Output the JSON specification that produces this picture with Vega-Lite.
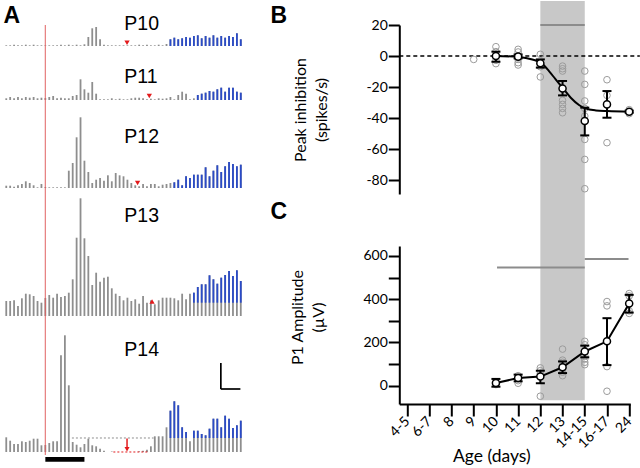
{
"$schema":"https://vega.github.io/schema/vega-lite/v6.json",
"background":"white",
"padding":{"left":3.3,"top":0,"right":0,"bottom":0},
"config":{"view":{"stroke":null}},
"datasets":{
"psth":[
{"age":"P10","t":-100,"rate":0.7},{"age":"P10","t":-90,"rate":0.7},{"age":"P10","t":-80,"rate":1.3},{"age":"P10","t":-70,"rate":0.7},{"age":"P10","t":-60,"rate":0.7},{"age":"P10","t":-50,"rate":1.3},{"age":"P10","t":-40,"rate":0.7},{"age":"P10","t":-30,"rate":1.3},{"age":"P10","t":-20,"rate":0.7},{"age":"P10","t":-10,"rate":0.7},
{"age":"P10","t":0,"rate":0.7},{"age":"P10","t":10,"rate":0.7},{"age":"P10","t":20,"rate":0.7},{"age":"P10","t":30,"rate":0.7},{"age":"P10","t":40,"rate":1.3},{"age":"P10","t":50,"rate":0.7},{"age":"P10","t":60,"rate":1.3},{"age":"P10","t":70,"rate":0.7},{"age":"P10","t":80,"rate":1.3},{"age":"P10","t":90,"rate":0.7},
{"age":"P10","t":100,"rate":1.7},{"age":"P10","t":110,"rate":9},{"age":"P10","t":120,"rate":17.7},{"age":"P10","t":130,"rate":19},{"age":"P10","t":140,"rate":6.7},{"age":"P10","t":150,"rate":1.3},{"age":"P10","t":160,"rate":0.7},{"age":"P10","t":170,"rate":0.7},{"age":"P10","t":180,"rate":0.7},{"age":"P10","t":190,"rate":0.7},
{"age":"P10","t":200,"rate":0.7},{"age":"P10","t":210,"rate":0.7},{"age":"P10","t":220,"rate":0.7},{"age":"P10","t":230,"rate":0.7},{"age":"P10","t":240,"rate":1.3},{"age":"P10","t":250,"rate":0.7},{"age":"P10","t":260,"rate":1.3},{"age":"P10","t":270,"rate":0.7},{"age":"P10","t":280,"rate":0.7},{"age":"P10","t":290,"rate":1.3},
{"age":"P10","t":300,"rate":0.7},{"age":"P10","t":310,"rate":2},
{"age":"P10","t":320,"rate":6.7,"base":0},{"age":"P10","t":330,"rate":8.3,"base":0},{"age":"P10","t":340,"rate":6.7,"base":0},{"age":"P10","t":350,"rate":7.7,"base":0},{"age":"P10","t":360,"rate":9,"base":0},{"age":"P10","t":370,"rate":8.3,"base":0},{"age":"P10","t":380,"rate":10,"base":0},{"age":"P10","t":390,"rate":10.7,"base":0},{"age":"P10","t":400,"rate":7.7,"base":0},{"age":"P10","t":410,"rate":10,"base":0},{"age":"P10","t":420,"rate":8.3,"base":0},{"age":"P10","t":430,"rate":10.7,"base":0},{"age":"P10","t":440,"rate":8.3,"base":0},{"age":"P10","t":450,"rate":10,"base":0},{"age":"P10","t":460,"rate":8.3,"base":0},{"age":"P10","t":470,"rate":10,"base":0},{"age":"P10","t":480,"rate":9,"base":0},{"age":"P10","t":490,"rate":12.7,"base":0},{"age":"P10","t":500,"rate":6.7,"base":0},

{"age":"P11","t":-100,"rate":1.7},{"age":"P11","t":-90,"rate":3},{"age":"P11","t":-80,"rate":1.7},{"age":"P11","t":-70,"rate":3},{"age":"P11","t":-60,"rate":1.7},{"age":"P11","t":-50,"rate":3},{"age":"P11","t":-40,"rate":2.3},{"age":"P11","t":-30,"rate":3},{"age":"P11","t":-20,"rate":1.7},{"age":"P11","t":-10,"rate":2.3},
{"age":"P11","t":0,"rate":2},{"age":"P11","t":10,"rate":3},{"age":"P11","t":20,"rate":4},{"age":"P11","t":30,"rate":1.7},{"age":"P11","t":40,"rate":2.3},{"age":"P11","t":50,"rate":1.7},{"age":"P11","t":60,"rate":1.7},{"age":"P11","t":70,"rate":4},{"age":"P11","t":80,"rate":5},{"age":"P11","t":90,"rate":20.7},
{"age":"P11","t":100,"rate":10.7},{"age":"P11","t":110,"rate":7.3},{"age":"P11","t":120,"rate":18},{"age":"P11","t":130,"rate":6.3},{"age":"P11","t":140,"rate":0.7},{"age":"P11","t":150,"rate":0.7},{"age":"P11","t":160,"rate":0.7},{"age":"P11","t":170,"rate":1.7},{"age":"P11","t":180,"rate":0.7},{"age":"P11","t":190,"rate":1.3},
{"age":"P11","t":200,"rate":0.7},{"age":"P11","t":210,"rate":0.7},{"age":"P11","t":220,"rate":1.7},{"age":"P11","t":230,"rate":2.3},{"age":"P11","t":240,"rate":2.3},{"age":"P11","t":250,"rate":1.7},{"age":"P11","t":260,"rate":0.7},{"age":"P11","t":270,"rate":1.3},{"age":"P11","t":280,"rate":0.7},{"age":"P11","t":290,"rate":1.7},
{"age":"P11","t":300,"rate":1.3},{"age":"P11","t":310,"rate":1.7},{"age":"P11","t":320,"rate":3},{"age":"P11","t":330,"rate":0.7},{"age":"P11","t":340,"rate":5},{"age":"P11","t":350,"rate":8.3},{"age":"P11","t":360,"rate":6.3},{"age":"P11","t":370,"rate":0.7},{"age":"P11","t":380,"rate":1.7},
{"age":"P11","t":390,"rate":5,"base":0},{"age":"P11","t":400,"rate":6.3,"base":0},{"age":"P11","t":410,"rate":7.3,"base":0},{"age":"P11","t":420,"rate":9,"base":0},{"age":"P11","t":430,"rate":8.3,"base":0},{"age":"P11","t":440,"rate":10.7,"base":0},{"age":"P11","t":450,"rate":12.3,"base":0},{"age":"P11","t":460,"rate":8.3,"base":0},{"age":"P11","t":470,"rate":12.3,"base":0},{"age":"P11","t":480,"rate":12.3,"base":0},{"age":"P11","t":490,"rate":8.3,"base":0},{"age":"P11","t":500,"rate":7.3,"base":0},

{"age":"P12","t":-100,"rate":2.3},{"age":"P12","t":-90,"rate":2.3},{"age":"P12","t":-80,"rate":1.3},{"age":"P12","t":-70,"rate":2.7},{"age":"P12","t":-60,"rate":4},{"age":"P12","t":-50,"rate":6.7},{"age":"P12","t":-40,"rate":5},{"age":"P12","t":-30,"rate":2.7},{"age":"P12","t":-20,"rate":0.7},{"age":"P12","t":-10,"rate":4},
{"age":"P12","t":0,"rate":1},{"age":"P12","t":10,"rate":0.7},{"age":"P12","t":20,"rate":0.7},{"age":"P12","t":30,"rate":0.7},{"age":"P12","t":40,"rate":0.7},{"age":"P12","t":50,"rate":0.7},{"age":"P12","t":60,"rate":17.3},{"age":"P12","t":70,"rate":25},{"age":"P12","t":80,"rate":50.7},{"age":"P12","t":90,"rate":70.7},
{"age":"P12","t":100,"rate":27.3},{"age":"P12","t":110,"rate":16},{"age":"P12","t":120,"rate":5},{"age":"P12","t":130,"rate":8.3},{"age":"P12","t":140,"rate":10},{"age":"P12","t":150,"rate":7.3},{"age":"P12","t":160,"rate":12.7},{"age":"P12","t":170,"rate":6.7},{"age":"P12","t":180,"rate":15},{"age":"P12","t":190,"rate":12.7},
{"age":"P12","t":200,"rate":11.7},{"age":"P12","t":210,"rate":8.3},{"age":"P12","t":220,"rate":5},{"age":"P12","t":230,"rate":2.7},{"age":"P12","t":240,"rate":1.7},{"age":"P12","t":250,"rate":4},{"age":"P12","t":260,"rate":1.7},{"age":"P12","t":270,"rate":4},{"age":"P12","t":280,"rate":4},{"age":"P12","t":290,"rate":1.7},
{"age":"P12","t":300,"rate":3.3},{"age":"P12","t":310,"rate":4},{"age":"P12","t":320,"rate":5},
{"age":"P12","t":330,"rate":5.7,"base":0},{"age":"P12","t":340,"rate":8.3,"base":0},{"age":"P12","t":350,"rate":2.7,"base":0},{"age":"P12","t":360,"rate":11.7,"base":0},{"age":"P12","t":370,"rate":10,"base":0},{"age":"P12","t":380,"rate":13.3,"base":0},{"age":"P12","t":390,"rate":13.3,"base":0},{"age":"P12","t":400,"rate":13.3,"base":0},{"age":"P12","t":410,"rate":20.7,"base":0},{"age":"P12","t":420,"rate":11.7,"base":0},{"age":"P12","t":430,"rate":17.3,"base":0},{"age":"P12","t":440,"rate":22.7,"base":0},{"age":"P12","t":450,"rate":16,"base":0},{"age":"P12","t":460,"rate":21.7,"base":0},{"age":"P12","t":470,"rate":26,"base":0},{"age":"P12","t":480,"rate":24,"base":0},{"age":"P12","t":490,"rate":21.7,"base":0},{"age":"P12","t":500,"rate":23.3,"base":0},

{"age":"P13","t":-100,"rate":15},{"age":"P13","t":-90,"rate":15},{"age":"P13","t":-80,"rate":15.7},{"age":"P13","t":-70,"rate":10},{"age":"P13","t":-60,"rate":17.7},{"age":"P13","t":-50,"rate":22.3},{"age":"P13","t":-40,"rate":21.7},{"age":"P13","t":-30,"rate":20},{"age":"P13","t":-20,"rate":15},{"age":"P13","t":-10,"rate":13.3},
{"age":"P13","t":0,"rate":18},{"age":"P13","t":10,"rate":21},{"age":"P13","t":20,"rate":18.3},{"age":"P13","t":30,"rate":22.3},{"age":"P13","t":40,"rate":19},{"age":"P13","t":50,"rate":20},{"age":"P13","t":60,"rate":23.3},{"age":"P13","t":70,"rate":36.7},{"age":"P13","t":80,"rate":78.3},{"age":"P13","t":90,"rate":117.7},
{"age":"P13","t":100,"rate":77.7},{"age":"P13","t":110,"rate":60},{"age":"P13","t":120,"rate":31},{"age":"P13","t":130,"rate":43.3},{"age":"P13","t":140,"rate":34.3},{"age":"P13","t":150,"rate":38.3},{"age":"P13","t":160,"rate":39.3},{"age":"P13","t":170,"rate":27.7},{"age":"P13","t":180,"rate":22.3},{"age":"P13","t":190,"rate":20},
{"age":"P13","t":200,"rate":15.7},{"age":"P13","t":210,"rate":18.3},{"age":"P13","t":220,"rate":15},{"age":"P13","t":230,"rate":16.7},{"age":"P13","t":240,"rate":12.3},{"age":"P13","t":250,"rate":20},{"age":"P13","t":260,"rate":13.3},{"age":"P13","t":270,"rate":15.7},{"age":"P13","t":280,"rate":11.7},{"age":"P13","t":290,"rate":15.7},
{"age":"P13","t":300,"rate":18.3},{"age":"P13","t":310,"rate":18.3},{"age":"P13","t":320,"rate":18.3},{"age":"P13","t":330,"rate":17.7},{"age":"P13","t":340,"rate":15.7},{"age":"P13","t":350,"rate":22.3},{"age":"P13","t":360,"rate":16.7},{"age":"P13","t":370,"rate":22.3},
{"age":"P13","t":380,"rate":23.3,"base":13.3},{"age":"P13","t":390,"rate":29,"base":13.3},{"age":"P13","t":400,"rate":31.7,"base":13.3},{"age":"P13","t":410,"rate":31.7,"base":13.3},{"age":"P13","t":420,"rate":40.7,"base":13.3},{"age":"P13","t":430,"rate":36.7,"base":13.3},{"age":"P13","t":440,"rate":32.3,"base":13.3},{"age":"P13","t":450,"rate":38.3,"base":13.3},{"age":"P13","t":460,"rate":41,"base":13.3},{"age":"P13","t":470,"rate":45,"base":13.3},{"age":"P13","t":480,"rate":40,"base":13.3},{"age":"P13","t":490,"rate":45.7,"base":13.3},{"age":"P13","t":500,"rate":35,"base":13.3},

{"age":"P14","t":-100,"rate":14.7},{"age":"P14","t":-90,"rate":11.3},{"age":"P14","t":-80,"rate":8},{"age":"P14","t":-70,"rate":8},{"age":"P14","t":-60,"rate":10.7},{"age":"P14","t":-50,"rate":10},{"age":"P14","t":-40,"rate":11.3},{"age":"P14","t":-30,"rate":13.3},{"age":"P14","t":-20,"rate":13.3},{"age":"P14","t":-10,"rate":6.7},
{"age":"P14","t":0,"rate":7},{"age":"P14","t":10,"rate":9},{"age":"P14","t":20,"rate":10.7},{"age":"P14","t":30,"rate":10.7},{"age":"P14","t":40,"rate":96.7},{"age":"P14","t":50,"rate":116.7},{"age":"P14","t":60,"rate":66.7},{"age":"P14","t":70,"rate":10},{"age":"P14","t":80,"rate":7.3},{"age":"P14","t":90,"rate":4.7},
{"age":"P14","t":100,"rate":8},{"age":"P14","t":110,"rate":13.3},{"age":"P14","t":120,"rate":6.7},{"age":"P14","t":130,"rate":5.7},{"age":"P14","t":140,"rate":3.3},{"age":"P14","t":150,"rate":1.3},{"age":"P14","t":160,"rate":0},{"age":"P14","t":170,"rate":0.5},{"age":"P14","t":180,"rate":0},{"age":"P14","t":190,"rate":0},
{"age":"P14","t":200,"rate":0},{"age":"P14","t":210,"rate":0},{"age":"P14","t":220,"rate":0},{"age":"P14","t":230,"rate":0},{"age":"P14","t":240,"rate":0.7},{"age":"P14","t":250,"rate":1.3},{"age":"P14","t":260,"rate":2.3},{"age":"P14","t":270,"rate":5.7},{"age":"P14","t":280,"rate":15.7},{"age":"P14","t":290,"rate":15.7},
{"age":"P14","t":300,"rate":15.7},{"age":"P14","t":310,"rate":24.7},
{"age":"P14","t":320,"rate":41.3,"base":14},{"age":"P14","t":330,"rate":50.7,"base":14},{"age":"P14","t":340,"rate":46.7,"base":14},{"age":"P14","t":350,"rate":24.7,"base":14},{"age":"P14","t":360,"rate":20,"base":14},{"age":"P14","t":370,"rate":10.7,"base":14},{"age":"P14","t":380,"rate":21.3,"base":14},{"age":"P14","t":390,"rate":21.3,"base":14},{"age":"P14","t":400,"rate":18,"base":14},{"age":"P14","t":410,"rate":16.7,"base":14},{"age":"P14","t":420,"rate":23.3,"base":14},{"age":"P14","t":430,"rate":33.3,"base":14},{"age":"P14","t":440,"rate":33.3,"base":14},{"age":"P14","t":450,"rate":24.7,"base":14},{"age":"P14","t":460,"rate":36.3,"base":14},{"age":"P14","t":470,"rate":33.3,"base":14},{"age":"P14","t":480,"rate":24,"base":14},{"age":"P14","t":490,"rate":26.7,"base":14},{"age":"P14","t":500,"rate":31.3,"base":14}
],
"minima":[{"age":"P10","t":209,"rate":3.3},{"age":"P11","t":266,"rate":4},{"age":"P12","t":236,"rate":5},{"age":"P13","t":273,"rate":14.5},{"age":"P14","t":209,"rate":2.8}],
"b_ind":[
{"age":"9","pos":3,"inhib":-2.2},
{"age":"10","pos":4,"inhib":6},{"age":"10","pos":4,"inhib":2.8},{"age":"10","pos":4,"inhib":0},{"age":"10","pos":4,"inhib":-2.8},{"age":"10","pos":4,"inhib":-4.9},
{"age":"11","pos":5,"inhib":4.3},{"age":"11","pos":5,"inhib":2.6},{"age":"11","pos":5,"inhib":0},{"age":"11","pos":5,"inhib":-2.2},{"age":"11","pos":5,"inhib":-4.3},{"age":"11","pos":5,"inhib":-5.8},
{"age":"12","pos":6,"inhib":1.1},{"age":"12","pos":6,"inhib":-4.9},{"age":"12","pos":6,"inhib":-6.9},{"age":"12","pos":6,"inhib":-13.5},
{"age":"13","pos":7,"inhib":-6.5},{"age":"13","pos":7,"inhib":-8.2},{"age":"13","pos":7,"inhib":-9.7},{"age":"13","pos":7,"inhib":-28.6},{"age":"13","pos":7,"inhib":-31.2},{"age":"13","pos":7,"inhib":-33.8},{"age":"13","pos":7,"inhib":-36.6},
{"age":"14-15","pos":8,"inhib":-9.7},{"age":"14-15","pos":8,"inhib":-18.3},{"age":"14-15","pos":8,"inhib":-29},{"age":"14-15","pos":8,"inhib":-33.8},{"age":"14-15","pos":8,"inhib":-38.7},{"age":"14-15","pos":8,"inhib":-53.8},{"age":"14-15","pos":8,"inhib":-66.7},{"age":"14-15","pos":8,"inhib":-85.6},
{"age":"16-17","pos":9,"inhib":-15.3},{"age":"16-17","pos":9,"inhib":-25.4},{"age":"16-17","pos":9,"inhib":-55.9},
{"age":"24","pos":10,"inhib":-34.6},{"age":"24","pos":10,"inhib":-37.2}
],
"b_mean":[
{"age":"10","pos":4,"inhib":0,"lo":-3.7,"hi":2.8},{"age":"11","pos":5,"inhib":-0.4,"lo":-1.5,"hi":1},{"age":"12","pos":6,"inhib":-4.7,"lo":-7.5,"hi":-2.2},{"age":"13","pos":7,"inhib":-20.9,"lo":-25.4,"hi":-16.1},{"age":"14-15","pos":8,"inhib":-41.9,"lo":-51.2,"hi":-33.3},{"age":"16-17","pos":9,"inhib":-31.2,"lo":-39.8,"hi":-22.6},{"age":"24","pos":10,"inhib":-35.9,"lo":-36.6,"hi":-35.2}
],
"b_fit":[
{"pos":3.95,"inhib":0},{"pos":5.04,"inhib":-0.6},{"pos":5.64,"inhib":-2.2},{"pos":6.02,"inhib":-4.3},{"pos":6.39,"inhib":-9.7},{"pos":6.69,"inhib":-15.1},{"pos":7.02,"inhib":-20.9},{"pos":7.37,"inhib":-26.9},{"pos":7.74,"inhib":-31.6},{"pos":8.02,"inhib":-33.8},{"pos":8.5,"inhib":-35.1},{"pos":9.02,"inhib":-35.5},{"pos":10,"inhib":-35.9}
],
"c_ind":[
{"age":"10","pos":4,"amp":18},{"age":"10","pos":4,"amp":10},{"age":"10","pos":4,"amp":5},
{"age":"11","pos":5,"amp":46},{"age":"11","pos":5,"amp":23},{"age":"11","pos":5,"amp":11},
{"age":"12","pos":6,"amp":82},{"age":"12","pos":6,"amp":69},{"age":"12","pos":6,"amp":57},{"age":"12","pos":6,"amp":-49},
{"age":"13","pos":7,"amp":169},{"age":"13","pos":7,"amp":118},{"age":"13","pos":7,"amp":108},{"age":"13","pos":7,"amp":77},{"age":"13","pos":7,"amp":62},{"age":"13","pos":7,"amp":46},
{"age":"14-15","pos":8,"amp":205},{"age":"14-15","pos":8,"amp":189},{"age":"14-15","pos":8,"amp":138},{"age":"14-15","pos":8,"amp":123},{"age":"14-15","pos":8,"amp":108},{"age":"14-15","pos":8,"amp":97},
{"age":"16-17","pos":9,"amp":389},{"age":"16-17","pos":9,"amp":369},{"age":"16-17","pos":9,"amp":88},{"age":"16-17","pos":9,"amp":-26},
{"age":"24","pos":10,"amp":426},{"age":"24","pos":10,"amp":415},{"age":"24","pos":10,"amp":346},{"age":"24","pos":10,"amp":334}
],
"c_mean":[
{"age":"10","pos":4,"amp":12,"lo":-5,"hi":31},{"age":"11","pos":5,"amp":35,"lo":20,"hi":51},{"age":"12","pos":6,"amp":42,"lo":11,"hi":69},{"age":"13","pos":7,"amp":85,"lo":58,"hi":112},{"age":"14-15","pos":8,"amp":158,"lo":131,"hi":185},{"age":"16-17","pos":9,"amp":205,"lo":95,"hi":312},{"age":"24","pos":10,"amp":380,"lo":338,"hi":420}
]
},
"hconcat":[
{
"width":240,"height":430,
"resolve":{"scale":{"y":"independent"}},
"layer":[
{"data":{"name":"psth"},"transform":[{"filter":"datum.age === 'P10'"}],"mark":{"type":"rule","color":"#8e8e8e","strokeWidth":1.8},
 "encoding":{"x":{"field":"t","type":"quantitative","scale":{"domain":[-105,509]},"axis":null},"y":{"field":"rate","type":"quantitative","scale":{"domain":[0,100],"range":[21,-79]},"axis":null},"y2":{"datum":0}}},
{"data":{"name":"psth"},"transform":[{"filter":"datum.age === 'P10' && isValid(datum.base) && datum.rate > datum.base"}],"mark":{"type":"rule","color":"#2a4bc8","strokeWidth":1.8},
 "encoding":{"x":{"field":"t","type":"quantitative","scale":{"domain":[-105,509]},"axis":null},"y":{"field":"base","type":"quantitative","scale":{"domain":[0,100],"range":[21,-79]},"axis":null},"y2":{"field":"rate"}}},
{"data":{"name":"minima"},"transform":[{"filter":"datum.age === 'P10'"}],"mark":{"type":"point","shape":"triangle-down","filled":true,"color":"#e31a1c","size":28,"opacity":1},
 "encoding":{"x":{"field":"t","type":"quantitative","scale":{"domain":[-105,509]},"axis":null},"y":{"field":"rate","type":"quantitative","scale":{"domain":[0,100],"range":[21,-79]},"axis":null}}},
{"data":{"values":[{}]},"mark":{"type":"text","text":"P10","font":"Liberation Sans","fontSize":19.5,"align":"left","baseline":"alphabetic","color":"black"},
 "encoding":{"x":{"datum":202,"type":"quantitative","scale":{"domain":[-105,509]},"axis":null},"y":{"datum":16,"type":"quantitative","scale":{"domain":[0,100],"range":[21,-79]},"axis":null}}},
{"data":{"values":[{}]},"mark":{"type":"text","text":"A","font":"Liberation Sans","fontWeight":"bold","fontSize":23,"align":"left","baseline":"alphabetic","color":"black"},
 "encoding":{"x":{"datum":-106.8,"type":"quantitative","scale":{"domain":[-105,509]},"axis":null},"y":{"datum":23.3,"type":"quantitative","scale":{"domain":[0,100],"range":[21,-79]},"axis":null}}},

{"data":{"name":"psth"},"transform":[{"filter":"datum.age === 'P11'"}],"mark":{"type":"rule","color":"#8e8e8e","strokeWidth":1.8},
 "encoding":{"x":{"field":"t","type":"quantitative","scale":{"domain":[-105,509]},"axis":null},"y":{"field":"rate","type":"quantitative","scale":{"domain":[0,100],"range":[75,-25]},"axis":null},"y2":{"datum":0}}},
{"data":{"name":"psth"},"transform":[{"filter":"datum.age === 'P11' && isValid(datum.base) && datum.rate > datum.base"}],"mark":{"type":"rule","color":"#2a4bc8","strokeWidth":1.8},
 "encoding":{"x":{"field":"t","type":"quantitative","scale":{"domain":[-105,509]},"axis":null},"y":{"field":"base","type":"quantitative","scale":{"domain":[0,100],"range":[75,-25]},"axis":null},"y2":{"field":"rate"}}},
{"data":{"name":"minima"},"transform":[{"filter":"datum.age === 'P11'"}],"mark":{"type":"point","shape":"triangle-down","filled":true,"color":"#e31a1c","size":28,"opacity":1},
 "encoding":{"x":{"field":"t","type":"quantitative","scale":{"domain":[-105,509]},"axis":null},"y":{"field":"rate","type":"quantitative","scale":{"domain":[0,100],"range":[75,-25]},"axis":null}}},
{"data":{"values":[{}]},"mark":{"type":"text","text":"P11","font":"Liberation Sans","fontSize":19.5,"align":"left","baseline":"alphabetic","color":"black"},
 "encoding":{"x":{"datum":202,"type":"quantitative","scale":{"domain":[-105,509]},"axis":null},"y":{"datum":17.3,"type":"quantitative","scale":{"domain":[0,100],"range":[75,-25]},"axis":null}}},

{"data":{"name":"psth"},"transform":[{"filter":"datum.age === 'P12'"}],"mark":{"type":"rule","color":"#8e8e8e","strokeWidth":1.8},
 "encoding":{"x":{"field":"t","type":"quantitative","scale":{"domain":[-105,509]},"axis":null},"y":{"field":"rate","type":"quantitative","scale":{"domain":[0,100],"range":[163,63]},"axis":null},"y2":{"datum":0}}},
{"data":{"name":"psth"},"transform":[{"filter":"datum.age === 'P12' && isValid(datum.base) && datum.rate > datum.base"}],"mark":{"type":"rule","color":"#2a4bc8","strokeWidth":1.8},
 "encoding":{"x":{"field":"t","type":"quantitative","scale":{"domain":[-105,509]},"axis":null},"y":{"field":"base","type":"quantitative","scale":{"domain":[0,100],"range":[163,63]},"axis":null},"y2":{"field":"rate"}}},
{"data":{"name":"minima"},"transform":[{"filter":"datum.age === 'P12'"}],"mark":{"type":"point","shape":"triangle-down","filled":true,"color":"#e31a1c","size":28,"opacity":1},
 "encoding":{"x":{"field":"t","type":"quantitative","scale":{"domain":[-105,509]},"axis":null},"y":{"field":"rate","type":"quantitative","scale":{"domain":[0,100],"range":[163,63]},"axis":null}}},
{"data":{"values":[{}]},"mark":{"type":"text","text":"P12","font":"Liberation Sans","fontSize":19.5,"align":"left","baseline":"alphabetic","color":"black"},
 "encoding":{"x":{"datum":202,"type":"quantitative","scale":{"domain":[-105,509]},"axis":null},"y":{"datum":45,"type":"quantitative","scale":{"domain":[0,100],"range":[163,63]},"axis":null}}},

{"data":{"name":"psth"},"transform":[{"filter":"datum.age === 'P13'"}],"mark":{"type":"rule","color":"#8e8e8e","strokeWidth":1.8},
 "encoding":{"x":{"field":"t","type":"quantitative","scale":{"domain":[-105,509]},"axis":null},"y":{"field":"rate","type":"quantitative","scale":{"domain":[0,100],"range":[291,191]},"axis":null},"y2":{"datum":0}}},
{"data":{"name":"psth"},"transform":[{"filter":"datum.age === 'P13' && isValid(datum.base) && datum.rate > datum.base"}],"mark":{"type":"rule","color":"#2a4bc8","strokeWidth":1.8},
 "encoding":{"x":{"field":"t","type":"quantitative","scale":{"domain":[-105,509]},"axis":null},"y":{"field":"base","type":"quantitative","scale":{"domain":[0,100],"range":[291,191]},"axis":null},"y2":{"field":"rate"}}},
{"data":{"name":"minima"},"transform":[{"filter":"datum.age === 'P13'"}],"mark":{"type":"point","shape":"triangle-up","filled":true,"color":"#e31a1c","size":28,"opacity":1},
 "encoding":{"x":{"field":"t","type":"quantitative","scale":{"domain":[-105,509]},"axis":null},"y":{"field":"rate","type":"quantitative","scale":{"domain":[0,100],"range":[291,191]},"axis":null}}},
{"data":{"values":[{}]},"mark":{"type":"text","text":"P13","font":"Liberation Sans","fontSize":19.5,"align":"left","baseline":"alphabetic","color":"black"},
 "encoding":{"x":{"datum":202,"type":"quantitative","scale":{"domain":[-105,509]},"axis":null},"y":{"datum":94.3,"type":"quantitative","scale":{"domain":[0,100],"range":[291,191]},"axis":null}}},

{"data":{"name":"psth"},"transform":[{"filter":"datum.age === 'P14'"}],"mark":{"type":"rule","color":"#8e8e8e","strokeWidth":1.8},
 "encoding":{"x":{"field":"t","type":"quantitative","scale":{"domain":[-105,509]},"axis":null},"y":{"field":"rate","type":"quantitative","scale":{"domain":[0,100],"range":[427,327]},"axis":null},"y2":{"datum":0}}},
{"data":{"name":"psth"},"transform":[{"filter":"datum.age === 'P14' && isValid(datum.base) && datum.rate > datum.base"}],"mark":{"type":"rule","color":"#2a4bc8","strokeWidth":1.8},
 "encoding":{"x":{"field":"t","type":"quantitative","scale":{"domain":[-105,509]},"axis":null},"y":{"field":"base","type":"quantitative","scale":{"domain":[0,100],"range":[427,327]},"axis":null},"y2":{"field":"rate"}}},
{"data":{"values":[{}]},"mark":{"type":"rule","color":"#8e8e8e","strokeWidth":1,"strokeDash":[2,2]},
 "encoding":{"x":{"datum":68,"type":"quantitative","scale":{"domain":[-105,509]},"axis":null},"x2":{"datum":277},"y":{"datum":14,"type":"quantitative","scale":{"domain":[0,100],"range":[427,327]},"axis":null}}},
{"data":{"values":[{}]},"mark":{"type":"rule","color":"#e31a1c","strokeWidth":1,"strokeDash":[2,2]},
 "encoding":{"x":{"datum":174,"type":"quantitative","scale":{"domain":[-105,509]},"axis":null},"x2":{"datum":261},"y":{"datum":0,"type":"quantitative","scale":{"domain":[0,100],"range":[427,327]},"axis":null}}},
{"data":{"values":[{}]},"mark":{"type":"rule","color":"#e31a1c","strokeWidth":1.5},
 "encoding":{"x":{"datum":209,"type":"quantitative","scale":{"domain":[-105,509]},"axis":null},"y":{"datum":13.5,"type":"quantitative","scale":{"domain":[0,100],"range":[427,327]},"axis":null},"y2":{"datum":4}}},
{"data":{"name":"minima"},"transform":[{"filter":"datum.age === 'P14'"}],"mark":{"type":"point","shape":"triangle-down","filled":true,"color":"#e31a1c","size":26,"opacity":1},
 "encoding":{"x":{"field":"t","type":"quantitative","scale":{"domain":[-105,509]},"axis":null},"y":{"field":"rate","type":"quantitative","scale":{"domain":[0,100],"range":[427,327]},"axis":null}}},
{"data":{"values":[{}]},"mark":{"type":"text","text":"P14","font":"Liberation Sans","fontSize":19.5,"align":"left","baseline":"alphabetic","color":"black"},
 "encoding":{"x":{"datum":202,"type":"quantitative","scale":{"domain":[-105,509]},"axis":null},"y":{"datum":96,"type":"quantitative","scale":{"domain":[0,100],"range":[427,327]},"axis":null}}},
{"data":{"values":[{}]},"mark":{"type":"rect","color":"black"},
 "encoding":{"x":{"datum":0,"type":"quantitative","scale":{"domain":[-105,509]},"axis":null},"x2":{"datum":100},"y":{"datum":-5,"type":"quantitative","scale":{"domain":[0,100],"range":[427,327]},"axis":null},"y2":{"datum":-9.7}}},
{"data":{"values":[{}]},"mark":{"type":"rule","color":"black","strokeWidth":1.7},
 "encoding":{"x":{"datum":449,"type":"quantitative","scale":{"domain":[-105,509]},"axis":null},"y":{"datum":63,"type":"quantitative","scale":{"domain":[0,100],"range":[427,327]},"axis":null},"y2":{"datum":89}}},
{"data":{"values":[{}]},"mark":{"type":"rule","color":"black","strokeWidth":1.7},
 "encoding":{"x":{"datum":448.7,"type":"quantitative","scale":{"domain":[-105,509]},"axis":null},"x2":{"datum":499},"y":{"datum":63,"type":"quantitative","scale":{"domain":[0,100],"range":[427,327]},"axis":null}}},
{"data":{"values":[{}]},"mark":{"type":"rule","color":"#e05c5c","strokeWidth":1.2,"opacity":0.8},
 "encoding":{"x":{"datum":0,"type":"quantitative","scale":{"domain":[-105,509]},"axis":null}}}
]
},
{
"width":231,"height":379,
"resolve":{"scale":{"x":"independent","y":"independent"}},
"layer":[
{"data":{"values":[{}]},"mark":{"type":"rect","color":"#c8c8c8"},
 "encoding":{"x":{"datum":6,"type":"quantitative","scale":{"domain":[-0.35,10.05]},"axis":null},"x2":{"datum":8},"y":{"datum":-222,"type":"quantitative","scale":{"domain":[-89,20],"range":[169,0]},"axis":null},"y2":{"datum":35.5}}},
{"data":{"values":[{}]},"mark":{"type":"rule","color":"#8c8c8c","strokeWidth":2},
 "encoding":{"x":{"datum":6,"type":"quantitative","scale":{"domain":[-0.35,10.05]},"axis":null},"x2":{"datum":8},"y":{"datum":20,"type":"quantitative","scale":{"domain":[-89,20],"range":[169,0]},"axis":null}}},
{"data":{"values":[{}]},"mark":{"type":"rule","color":"#8c8c8c","strokeWidth":2},
 "encoding":{"x":{"datum":4.05,"type":"quantitative","scale":{"domain":[-0.35,10.05]},"axis":null},"x2":{"datum":8},"y":{"datum":546,"type":"quantitative","scale":{"domain":[-85,646],"range":[379,221]},"axis":null}}},
{"data":{"values":[{}]},"mark":{"type":"rule","color":"#8c8c8c","strokeWidth":2},
 "encoding":{"x":{"datum":8,"type":"quantitative","scale":{"domain":[-0.35,10.05]},"axis":null},"x2":{"datum":9.97},"y":{"datum":586,"type":"quantitative","scale":{"domain":[-85,646],"range":[379,221]},"axis":null}}},
{"data":{"values":[{}]},"mark":{"type":"rule","color":"black","strokeWidth":1.5,"strokeDash":[4,3]},
 "encoding":{"x":{"datum":-0.35,"type":"quantitative","scale":{"domain":[-0.35,10.05]},"axis":null},"x2":{"datum":10.48},"y":{"datum":0,"type":"quantitative","scale":{"domain":[-89,20],"range":[169,0]},"axis":null}}},
{"data":{"name":"b_ind"},"mark":{"type":"point","shape":"circle","filled":false,"stroke":"#9b9b9b","strokeWidth":1,"size":44,"opacity":1},
 "encoding":{"x":{"field":"pos","type":"quantitative","scale":{"domain":[-0.35,10.05]},"axis":null},
  "y":{"field":"inhib","type":"quantitative","scale":{"domain":[-89,20],"range":[169,0]},
   "axis":{"orient":"left","values":[-80,-60,-40,-20,0,20],"labelExpr":"(datum.value < 0 ? '-' : '') + abs(datum.value)","grid":false,"domainColor":"black","domainWidth":2,"tickColor":"black","tickWidth":2,"tickSize":11,"labelFont":"Lato","labelFontSize":14,"labelColor":"black","labelPadding":1,"labelFlush":false,"labelOverlap":false,"title":["Peak inhibition","(spikes/s)"],"titleFont":"Lato","titleFontSize":16,"titleFontWeight":"normal","titleColor":"black","titlePadding":36,"titleLineHeight":21}}}},
{"data":{"name":"b_fit"},"mark":{"type":"line","color":"black","strokeWidth":2,"interpolate":"monotone"},
 "encoding":{"x":{"field":"pos","type":"quantitative","scale":{"domain":[-0.35,10.05]},"axis":null},"y":{"field":"inhib","type":"quantitative","scale":{"domain":[-89,20],"range":[169,0]},"axis":null}}},
{"data":{"name":"b_mean"},"mark":{"type":"rule","color":"black","strokeWidth":2},
 "encoding":{"x":{"field":"pos","type":"quantitative","scale":{"domain":[-0.35,10.05]},"axis":null},"y":{"field":"lo","type":"quantitative","scale":{"domain":[-89,20],"range":[169,0]},"axis":null},"y2":{"field":"hi"}}},
{"data":{"name":"b_mean"},"mark":{"type":"tick","orient":"horizontal","color":"black","size":9,"thickness":2,"opacity":1},
 "encoding":{"x":{"field":"pos","type":"quantitative","scale":{"domain":[-0.35,10.05]},"axis":null},"y":{"field":"lo","type":"quantitative","scale":{"domain":[-89,20],"range":[169,0]},"axis":null}}},
{"data":{"name":"b_mean"},"mark":{"type":"tick","orient":"horizontal","color":"black","size":9,"thickness":2,"opacity":1},
 "encoding":{"x":{"field":"pos","type":"quantitative","scale":{"domain":[-0.35,10.05]},"axis":null},"y":{"field":"hi","type":"quantitative","scale":{"domain":[-89,20],"range":[169,0]},"axis":null}}},
{"data":{"name":"b_mean"},"mark":{"type":"point","shape":"circle","filled":true,"fill":"white","stroke":"black","strokeWidth":1.5,"size":50,"opacity":1},
 "encoding":{"x":{"field":"pos","type":"quantitative","scale":{"domain":[-0.35,10.05]},"axis":null},"y":{"field":"inhib","type":"quantitative","scale":{"domain":[-89,20],"range":[169,0]},"axis":null}}},
{"data":{"name":"c_ind"},"mark":{"type":"point","shape":"circle","filled":false,"stroke":"#9b9b9b","strokeWidth":1,"size":44,"opacity":1},
 "encoding":{"x":{"field":"pos","type":"quantitative","scale":{"domain":[-0.35,10.05]},
   "axis":{"orient":"bottom","values":[0,1,2,3,4,5,6,7,8,9,10],"labelExpr":"['4-5','6-7','8','9','10','11','12','13','14-15','16-17','24'][datum.value]","labelAngle":-45,"labelAlign":"right","labelBaseline":"middle","labelPadding":3,"labelFont":"Lato","labelFontSize":14,"labelColor":"black","labelFlush":false,"labelOverlap":false,"grid":false,"domainColor":"black","domainWidth":2,"tickColor":"black","tickWidth":2,"tickSize":12,"title":"Age (days)","titleFont":"Lato","titleFontSize":17.5,"titleFontWeight":"normal","titleColor":"black","titleX":92,"titleY":44,"titleAlign":"center","titleBaseline":"top"}},
  "y":{"field":"amp","type":"quantitative","scale":{"domain":[-85,646],"range":[379,221]},
   "axis":{"orient":"left","values":[0,100,200,300,400,500,600],"labelExpr":"datum.value % 200 === 0 ? datum.label : ''","grid":false,"domainColor":"black","domainWidth":2,"tickColor":"black","tickWidth":2,"tickSize":11,"labelFont":"Lato","labelFontSize":14,"labelColor":"black","labelPadding":1,"labelFlush":false,"labelOverlap":false,"title":["P1 Amplitude","(µV)"],"titleFont":"Lato","titleFontSize":16,"titleFontWeight":"normal","titleColor":"black","titlePadding":36,"titleLineHeight":21,"titleY":292}}}},
{"data":{"name":"c_mean"},"mark":{"type":"line","color":"black","strokeWidth":2},
 "encoding":{"x":{"field":"pos","type":"quantitative","scale":{"domain":[-0.35,10.05]},"axis":null},"y":{"field":"amp","type":"quantitative","scale":{"domain":[-85,646],"range":[379,221]},"axis":null}}},
{"data":{"name":"c_mean"},"mark":{"type":"rule","color":"black","strokeWidth":2},
 "encoding":{"x":{"field":"pos","type":"quantitative","scale":{"domain":[-0.35,10.05]},"axis":null},"y":{"field":"lo","type":"quantitative","scale":{"domain":[-85,646],"range":[379,221]},"axis":null},"y2":{"field":"hi"}}},
{"data":{"name":"c_mean"},"mark":{"type":"tick","orient":"horizontal","color":"black","size":9,"thickness":2,"opacity":1},
 "encoding":{"x":{"field":"pos","type":"quantitative","scale":{"domain":[-0.35,10.05]},"axis":null},"y":{"field":"lo","type":"quantitative","scale":{"domain":[-85,646],"range":[379,221]},"axis":null}}},
{"data":{"name":"c_mean"},"mark":{"type":"tick","orient":"horizontal","color":"black","size":9,"thickness":2,"opacity":1},
 "encoding":{"x":{"field":"pos","type":"quantitative","scale":{"domain":[-0.35,10.05]},"axis":null},"y":{"field":"hi","type":"quantitative","scale":{"domain":[-85,646],"range":[379,221]},"axis":null}}},
{"data":{"name":"c_mean"},"mark":{"type":"point","shape":"circle","filled":true,"fill":"white","stroke":"black","strokeWidth":1.5,"size":50,"opacity":1},
 "encoding":{"x":{"field":"pos","type":"quantitative","scale":{"domain":[-0.35,10.05]},"axis":null},"y":{"field":"amp","type":"quantitative","scale":{"domain":[-85,646],"range":[379,221]},"axis":null}}},
{"data":{"values":[{}]},"mark":{"type":"text","text":"B","font":"Liberation Sans","fontWeight":"bold","fontSize":23,"align":"left","baseline":"alphabetic","color":"black"},
 "encoding":{"x":{"datum":-6.15,"type":"quantitative","scale":{"domain":[-0.35,10.05]},"axis":null},"y":{"datum":21.3,"type":"quantitative","scale":{"domain":[-89,20],"range":[169,0]},"axis":null}}},
{"data":{"values":[{}]},"mark":{"type":"text","text":"C","font":"Liberation Sans","fontWeight":"bold","fontSize":23,"align":"left","baseline":"alphabetic","color":"black"},
 "encoding":{"x":{"datum":-6.15,"type":"quantitative","scale":{"domain":[-0.35,10.05]},"axis":null},"y":{"datum":771,"type":"quantitative","scale":{"domain":[-85,646],"range":[379,221]},"axis":null}}}
]
}
],
"spacing":155,
"bounds":"flush"
}
